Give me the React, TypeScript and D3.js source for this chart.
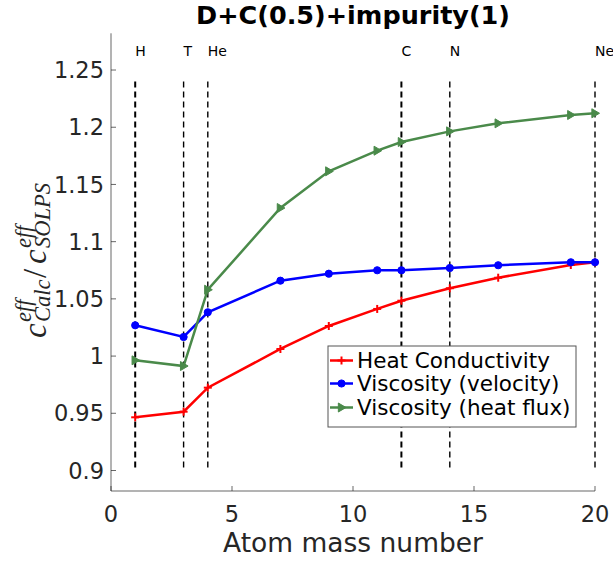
import React from "react";
import * as d3 from "d3";

const massNumbers = [1, 3, 4, 7, 9, 11, 12, 14, 16, 19, 20];
const heatConductivity = [0.9465, 0.9514, 0.9724, 1.0062, 1.0263, 1.0412, 1.0484, 1.0593, 1.0685, 1.0796, 1.082];
const viscosityVelocity = [1.0269, 1.0167, 1.0383, 1.0659, 1.072, 1.075, 1.075, 1.077, 1.0794, 1.082, 1.082];
const viscosityHeatFlux = [0.9963, 0.9913, 1.058, 1.1294, 1.1615, 1.1795, 1.1871, 1.1964, 1.2034, 1.2107, 1.2122];
const seriesNames = ["Heat Conductivity", "Viscosity (velocity)", "Viscosity (heat flux)"];
const elementNames = ["H", "T", "He", "C", "N", "Ne"];
const elementMasses = [1, 3, 4, 12, 14, 20];
const xTicks = [0, 5, 10, 15, 20];
const xTickLabels = ["0", "5", "10", "15", "20"];
const yTicks = [0.9, 0.95, 1.0, 1.05, 1.1, 1.15, 1.2, 1.25];
const yTickLabels = ["0.9", "0.95", "1", "1.05", "1.1", "1.15", "1.2", "1.25"];

const W = 613;
const H = 561;
const FONT = "'DejaVu Sans', sans-serif";
const AX = "#262626";

const colors = ["#ff0000", "#0000ff", "#4a8a4a"];

export default function App() {
  const x = d3.scaleLinear().domain([0, 20]).range([111, 595]);
  const y = d3.scaleLinear().domain([0.88209, 1.2821]).range([491, 33.3]);
  const x0 = x(0);
  const x1 = x(20);
  const yb = y.range()[0];
  const yt = y.range()[1];

  const allSeries = [heatConductivity, viscosityVelocity, viscosityHeatFlux];
  const line = d3
    .line<[number, number]>()
    .x((d) => x(d[0]))
    .y((d) => y(d[1]));

  const marker = (i: number, cx: number, cy: number, key: string) => {
    const c = colors[i];
    if (i === 0) {
      return (
        <g key={key} stroke={c} strokeWidth={2}>
          <line x1={cx - 4} x2={cx + 4} y1={cy} y2={cy} />
          <line x1={cx} x2={cx} y1={cy - 4} y2={cy + 4} />
        </g>
      );
    }
    if (i === 1) {
      return <circle key={key} cx={cx} cy={cy} r={3.6} fill={c} stroke={c} strokeWidth={1} />;
    }
    const s = 4.5;
    return (
      <path
        key={key}
        d={`M${cx + s},${cy} L${cx - s * 0.7},${cy - s} L${cx - s * 0.7},${cy + s} Z`}
        fill={c}
        stroke={c}
        strokeWidth={1}
      />
    );
  };

  const legendX = 328;
  const legendY = 346;
  const legendW = 248;
  const legendH = 81;
  const legendRows = [360.5, 383.5, 407.5];

  return (
    <svg
      width={W}
      height={H}
      style={{ position: "absolute", left: 0, top: 0, background: "#fff" }}
      fontFamily={FONT}
    >
      <rect x={0} y={0} width={W} height={H} fill="#fff" />
      {/* title */}
      <text x={(x0 + x1) / 2} y={23.5} textAnchor="middle" fontSize={25.5} fontWeight="bold" fill="#000">
        D+C(0.5)+impurity(1)
      </text>

      {/* dashed element lines */}
      {elementMasses.map((m, i) => (
        <line
          key={"v" + i}
          x1={x(m)}
          x2={x(m)}
          y1={y(1.24)}
          y2={y(0.9)}
          stroke="#000"
          strokeWidth={m === 1 || m === 12 ? 2 : 1.4}
          strokeDasharray="6,4"
        />
      ))}
      {elementMasses.map((m, i) => (
        <text key={"e" + i} x={x(m)} y={y(1.262)} fontSize={14} fill="#000">
          {elementNames[i]}
        </text>
      ))}

      {/* axes */}
      <line x1={x0} x2={x0} y1={yt} y2={yb} stroke={AX} strokeWidth={0.7} />
      <line x1={x0} x2={x1} y1={yb} y2={yb} stroke={AX} strokeWidth={0.7} />
      {yTicks.map((t, i) => (
        <g key={"yt" + i}>
          <line x1={x0} x2={x0 + 5} y1={y(t)} y2={y(t)} stroke={AX} strokeWidth={0.7} />
          <text x={x0 - 7} y={y(t)} dy="0.36em" textAnchor="end" fontSize={22.5} fill={AX}>
            {yTickLabels[i]}
          </text>
        </g>
      ))}
      {xTicks.map((t, i) => (
        <g key={"xt" + i}>
          <line x1={x(t)} x2={x(t)} y1={yb} y2={yb - 5} stroke={AX} strokeWidth={0.7} />
          <text x={x(t)} y={521.5} textAnchor="middle" fontSize={22.5} fill={AX}>
            {xTickLabels[i]}
          </text>
        </g>
      ))}
      <text x={(x0 + x1) / 2} y={551.5} textAnchor="middle" fontSize={26.5} fill={AX}>
        Atom mass number
      </text>

      {/* y label */}
      <g transform={`translate(46, 338) rotate(-90)`} fill={AX} fontFamily="'Liberation Serif', serif" fontStyle="italic">
        <text x={0} y={0} fontSize={33}>c</text>
        <text x={16} y={-15} fontSize={22.5}>eff</text>
        <text x={16} y={4} fontSize={22.5}>Calc</text>
        <text x={60} y={0} fontSize={33} fontStyle="normal">/</text>
        <text x={74} y={0} fontSize={33}>c</text>
        <text x={90} y={-15} fontSize={22.5}>eff</text>
        <text x={90} y={4} fontSize={22.5}>SOLPS</text>
      </g>

      {/* series */}
      {allSeries.map((vals, i) => {
        const pts: [number, number][] = massNumbers.map((m, j) => [m, vals[j]]);
        return (
          <g key={"s" + i}>
            <path d={line(pts) || ""} fill="none" stroke={colors[i]} strokeWidth={2.5} />
            {pts.map((p, j) => marker(i, x(p[0]), y(p[1]), `m${i}-${j}`))}
          </g>
        );
      })}

      {/* legend */}
      <rect x={legendX} y={legendY} width={legendW} height={legendH} fill="#fff" stroke="#555" strokeWidth={1} />
      {seriesNames.map((n, i) => (
        <g key={"l" + i}>
          <line x1={330} x2={353} y1={legendRows[i]} y2={legendRows[i]} stroke={colors[i]} strokeWidth={2.5} />
          {marker(i, 341.5, legendRows[i], "lm" + i)}
          <text x={357} y={legendRows[i] + 7.5} fontSize={21.5} fill="#000">
            {n}
          </text>
        </g>
      ))}
    </svg>
  );
}
